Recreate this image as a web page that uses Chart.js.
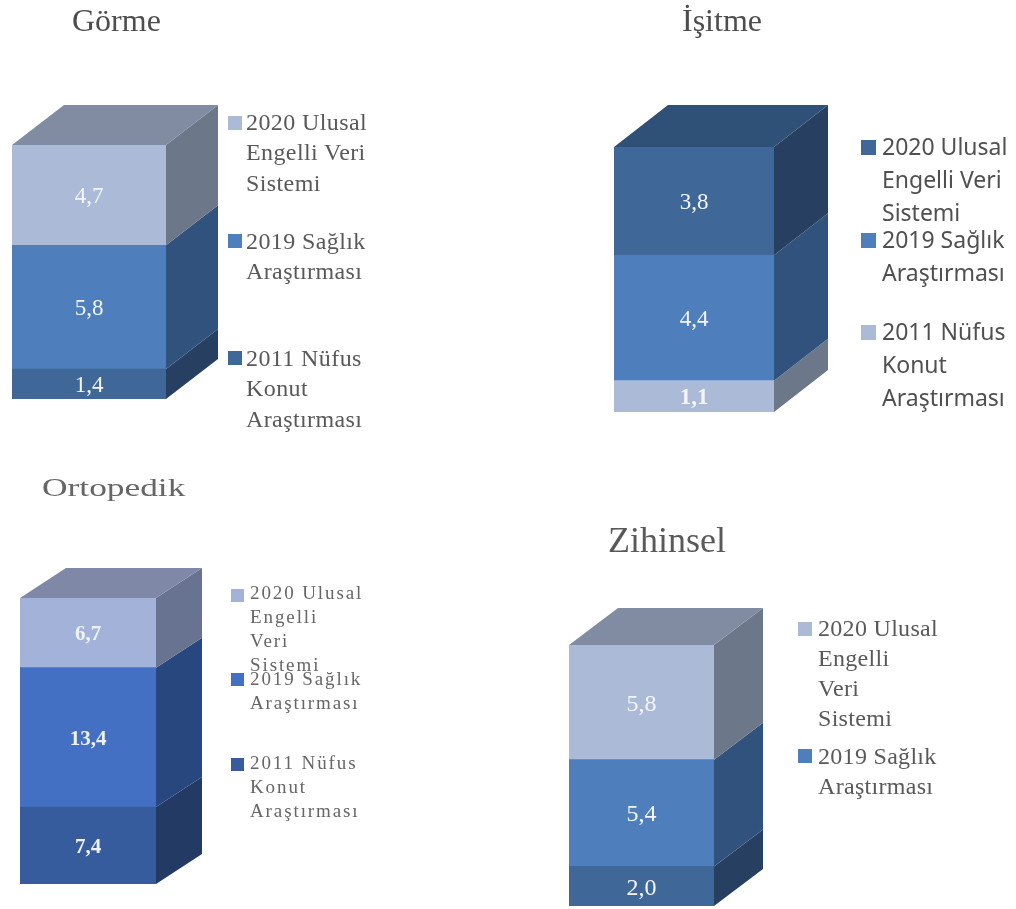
<!DOCTYPE html>
<html>
<head>
<meta charset="utf-8">
<style>
  html, body { margin: 0; padding: 0; background: #fff; }
  body { position: relative; width: 1016px; height: 909px; overflow: hidden; }
  canvas { position: absolute; display: block; }
  .title, .line { position: absolute; white-space: nowrap; filter: blur(0.3px); transform-origin: left top; }
  .swatch { position: absolute; }
</style>
<script src="https://cdn.jsdelivr.net/npm/chart.js@4"></script>
</head>
<body>
<script>
// series, bottom to top
const seriesNames = ['2011 Nüfus Konut Araştırması', '2019 Sağlık Araştırması', '2020 Ulusal Engelli Veri Sistemi']
const categories = ['Engel']

const gormeValues = [1.4, 5.8, 4.7]
const isitmeValues = [1.1, 4.4, 3.8]
const ortopedikValues = [7.4, 13.4, 6.7]
const zihinselValues = [2.0, 5.4, 5.8]

// wrapped the way each legend wraps them, top to bottom
const gormeLegend = ['2020 Ulusal\nEngelli Veri\nSistemi', '2019 Sağlık\nAraştırması', '2011 Nüfus\nKonut\nAraştırması']
const isitmeLegend = gormeLegend
const ortopedikLegend = ['2020 Ulusal\nEngelli\nVeri\nSistemi', '2019 Sağlık\nAraştırması', '2011 Nüfus\nKonut\nAraştırması']
const zihinselLegend = ['2020 Ulusal\nEngelli\nVeri\nSistemi', '2019 Sağlık\nAraştırması']

// colours: front, side
const light = ['#abbad7', '#6c7789']
const mid = ['#4e7fbc', '#30527c']
const dark = ['#3f6899', '#274062']

const panels = [
    {
        title: 'Görme', titleX: 72, titleY: 2, titleFont: '32px "Liberation Serif"', titleSpacing: 0, titleColor: '#4d4d4d',
        values: gormeValues, legend: gormeLegend,
        colors: [dark, mid, light], top: '#818ca3',
        box: { left: 12, top: 105, width: 206, height: 294 }, depth: [52, 40],
        labelFont: '23px "Liberation Serif"', labelColor: '#f4f6fa',
        legendFont: '24px "Liberation Serif"', legendSpacing: 0.4, legendColor: '#595959',
        swatchX: 228, swatchSize: 14, textX: 246, lineHeight: 30.5,
        blocks: [{ swatch: 116, text: 122 }, { swatch: 234, text: 241 }, { swatch: 351, text: 358 }]
    },
    {
        title: 'İşitme', titleX: 682, titleY: 2, titleFont: '32px "Liberation Serif"', titleSpacing: 0, titleColor: '#4d4d4d',
        values: isitmeValues, legend: isitmeLegend,
        colors: [light, mid, dark], top: '#2f5177',
        box: { left: 614, top: 105, width: 214, height: 307 }, depth: [54, 42],
        labelFont: '23px "Liberation Serif"', labelColor: '#f4f6fa', boldFirst: true,
        legendFont: '23px "Noto Sans"', legendSpacing: 0, legendColor: '#505050',
        swatchX: 861, swatchSize: 15, textX: 882, lineHeight: 33,
        blocks: [{ swatch: 140, text: 146 }, { swatch: 233, text: 239 }, { swatch: 325, text: 331 }]
    },
    {
        title: 'Ortopedik', titleX: 42, titleY: 473, titleFont: '26px "Liberation Serif"', titleSpacing: 0, titleStretch: 1.36, titleColor: '#666',
        values: ortopedikValues, legend: ortopedikLegend,
        colors: [['#365c9e', '#223a64'], ['#4470c4', '#28477f'], ['#a3b2d9', '#677390']], top: '#7f88a6',
        box: { left: 20, top: 568, width: 182, height: 316 }, depth: [46, 30],
        labelFont: 'bold 21px "Liberation Serif"', labelColor: '#eef1f8',
        legendFont: '19px "Liberation Serif"', legendSpacing: 1.9, legendColor: '#666',
        swatchX: 231, swatchSize: 13, textX: 250, lineHeight: 24,
        blocks: [{ swatch: 589, text: 593 }, { swatch: 673, text: 679 }, { swatch: 758, text: 763 }]
    },
    {
        title: 'Zihinsel', titleX: 608, titleY: 519, titleFont: '36px "Liberation Serif"', titleSpacing: 0, titleColor: '#595959',
        values: zihinselValues, legend: zihinselLegend,
        colors: [dark, mid, light], top: '#818ca3',
        box: { left: 569, top: 608, width: 194, height: 298 }, depth: [49, 37],
        labelFont: '24px "Liberation Serif"', labelColor: '#f4f6fa',
        legendFont: '24px "Liberation Serif"', legendSpacing: 0.3, legendColor: '#595959',
        swatchX: 798, swatchSize: 14, textX: 818, lineHeight: 30,
        blocks: [{ swatch: 622, text: 628 }, { swatch: 749, text: 756 }]
    }
]

// side and top faces of the block, taken from the bar elements
const blockFaces = {
    id: 'blockFaces',
    beforeDatasetsDraw(chart, args, opts) {
        const ctx = chart.ctx
        const dx = opts.depth[0]
        const dy = opts.depth[1]
        let last
        chart.data.datasets.forEach((ds, i) => {
            const bar = chart.getDatasetMeta(i).data[0]
            const right = bar.x + bar.width / 2
            ctx.fillStyle = ds.sideColor
            ctx.beginPath()
            ctx.moveTo(right, bar.y)
            ctx.lineTo(right + dx, bar.y - dy)
            ctx.lineTo(right + dx, bar.base - dy)
            ctx.lineTo(right, bar.base)
            ctx.closePath()
            ctx.fill()
            last = bar
        })
        const left = last.x - last.width / 2
        const right = last.x + last.width / 2
        ctx.fillStyle = opts.top
        ctx.beginPath()
        ctx.moveTo(left, last.y)
        ctx.lineTo(left + dx, last.y - dy)
        ctx.lineTo(right + dx, last.y - dy)
        ctx.lineTo(right, last.y)
        ctx.closePath()
        ctx.fill()
    }
}

// values in the middle of each segment, with decimal comma
const segmentLabels = {
    id: 'segmentLabels',
    afterDatasetsDraw(chart, args, opts) {
        const ctx = chart.ctx
        ctx.textAlign = 'center'
        ctx.textBaseline = 'middle'
        ctx.fillStyle = opts.color
        chart.data.datasets.forEach((ds, i) => {
            const bar = chart.getDatasetMeta(i).data[0]
            ctx.font = (opts.boldFirst && i === 0) ? 'bold ' + opts.font : opts.font
            ctx.fillText(ds.data[0].toFixed(1).replace('.', ','), bar.x, (bar.y + bar.base) / 2 + 2)
        })
    }
}

function addText(cls, text, x, y, font, color, spacing) {
    const el = document.createElement('div')
    el.className = cls
    el.textContent = text
    el.style.left = x + 'px'
    el.style.top = y + 'px'
    el.style.font = font
    el.style.color = color
    el.style.letterSpacing = spacing + 'px'
    document.body.appendChild(el)
    return el
}

panels.forEach(p => {
    const title = addText('title', p.title, p.titleX, p.titleY, p.titleFont, p.titleColor, p.titleSpacing)
    if (p.titleStretch) title.style.transform = 'scaleX(' + p.titleStretch + ')'

    const canvas = document.createElement('canvas')
    canvas.width = p.box.width
    canvas.height = p.box.height
    canvas.style.left = p.box.left + 'px'
    canvas.style.top = p.box.top + 'px'
    document.body.appendChild(canvas)

    new Chart(canvas.getContext('2d'), {
        type: 'bar',
        data: {
            labels: categories,
            datasets: p.values.map((v, i) => ({
                label: seriesNames[i],
                data: [v],
                backgroundColor: p.colors[i][0],
                sideColor: p.colors[i][1],
                borderWidth: 0,
                barPercentage: 1,
                categoryPercentage: 1
            }))
        },
        options: {
            responsive: false,
            animation: false,
            layout: { padding: { top: p.depth[1], right: p.depth[0], left: 0, bottom: 0 } },
            scales: {
                x: { stacked: true, display: false },
                y: { stacked: true, display: false, min: 0, max: p.values.reduce((a, b) => a + b, 0) }
            },
            plugins: {
                legend: { display: false },
                tooltip: { enabled: false },
                blockFaces: { depth: p.depth, top: p.top },
                segmentLabels: { font: p.labelFont, color: p.labelColor, boldFirst: p.boldFirst }
            }
        },
        plugins: [blockFaces, segmentLabels]
    })

    // legend runs top to bottom, series are bottom to top
    p.legend.forEach((text, i) => {
        const block = p.blocks[i]
        const sw = document.createElement('div')
        sw.className = 'swatch'
        sw.style.left = p.swatchX + 'px'
        sw.style.top = block.swatch + 'px'
        sw.style.width = p.swatchSize + 'px'
        sw.style.height = p.swatchSize + 'px'
        sw.style.background = p.colors[p.colors.length - 1 - i][0]
        document.body.appendChild(sw)
        text.split('\n').forEach((line, n) => {
            const el = addText('line', line, p.textX, 0, p.legendFont, p.legendColor, p.legendSpacing)
            el.style.lineHeight = p.lineHeight + 'px'
            el.style.top = (block.text + n * p.lineHeight - p.lineHeight / 2) + 'px'
        })
    })
})
</script>
</body>
</html>
